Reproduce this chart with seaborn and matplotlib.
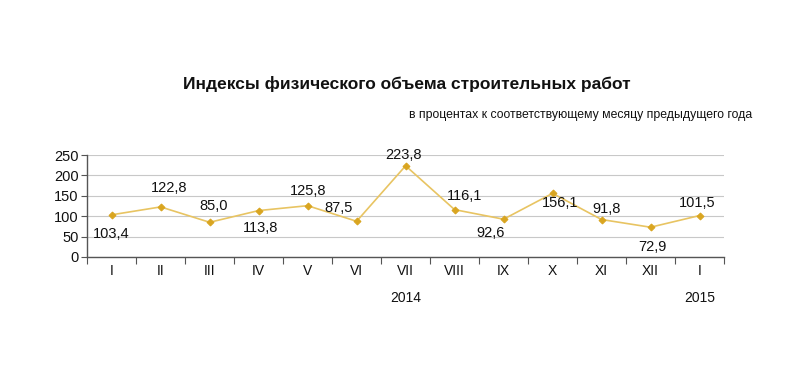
import numpy as np
import pandas as pd
import matplotlib
matplotlib.use("Agg")
import matplotlib.pyplot as plt
import seaborn as sns

months = ["I", "II", "III", "IV", "V", "VI", "VII", "VIII", "IX", "X", "XI", "XII", "I"]
values = [103.4, 122.8, 85.0, 113.8, 125.8, 87.5, 223.8, 116.1, 92.6, 156.1, 91.8, 72.9, 101.5]
years = ["2014", "2015"]
yticks = [0, 50, 100, 150, 200, 250]

# label offsets in pixels (dx, dy upward) - layout only
label_offsets = [(-1, -19), (8, 19), (4, 16), (2, -17), (0, 15), (-18, 13), (-2, 11),
                 (10, 14), (-13, -14), (8, -10), (5, 11), (2, -20), (-2, 13)]

sns.set_style("white")
plt.rcParams['font.family'] = ['Liberation Sans', 'DejaVu Sans']
plt.rcParams['text.color'] = '#111111'
plt.rcParams['xtick.color'] = '#111111'
plt.rcParams['ytick.color'] = '#111111'

df = pd.DataFrame({"pos": np.arange(len(values)), "val": values})

fig = plt.figure(figsize=(8, 3.84), dpi=100)
ax = fig.add_axes([0.109, 0.331, 0.796, 0.265])

sns.lineplot(data=df, x="pos", y="val", ax=ax, color="#E8C462", linewidth=1.2,
             marker="D", markersize=3.5, markerfacecolor="#D9A520", markeredgecolor="#D9A520")

ax.set_xlim(-0.5, len(values) - 0.5)
ax.set_ylim(0, 250)
ax.set_yticks(yticks)
ax.set_yticklabels([str(t) for t in yticks], fontsize=10.5)
ax.yaxis.grid(True, color="#C8C8C8", linewidth=0.8)
ax.set_axisbelow(True)
ax.set_xticks(np.arange(len(values) + 1) - 0.5)
ax.set_xticklabels([])
ax.set_xticks(np.arange(len(values)), minor=True)
ax.set_xticklabels(months, minor=True, fontsize=10)
ax.tick_params(axis="x", which="major", length=5, color="#555555", direction="out", bottom=True)
ax.tick_params(axis="x", which="minor", length=0, pad=5)
ax.tick_params(axis="y", length=4, color="#555555", direction="out", left=True, pad=2)
ax.set_xlabel("")
ax.set_ylabel("")
for s in ["top", "right"]:
    ax.spines[s].set_visible(False)
for s in ["left", "bottom"]:
    ax.spines[s].set_color("#555555")
    ax.spines[s].set_linewidth(1.0)

for i, (v, off) in enumerate(zip(values, label_offsets)):
    txt = f"{v:.1f}".replace(".", ",")
    ax.annotate(txt, (i, v), xytext=off, textcoords="offset pixels",
                ha="center", va="center", fontsize=10.5)

ax.text(6, -0.40, years[0], transform=ax.get_xaxis_transform(), ha="center", va="center", fontsize=10)
ax.text(12, -0.40, years[1], transform=ax.get_xaxis_transform(), ha="center", va="center", fontsize=10)

fig.text(0.508, 0.781, "Индексы физического объема строительных работ", ha="center", va="center",
         fontsize=12.5, fontweight="bold")
fig.text(0.94, 0.70, "в процентах к соответствующему месяцу предыдущего года", ha="right", va="center",
         fontsize=8.8)

fig.savefig("out.png", dpi=100)
